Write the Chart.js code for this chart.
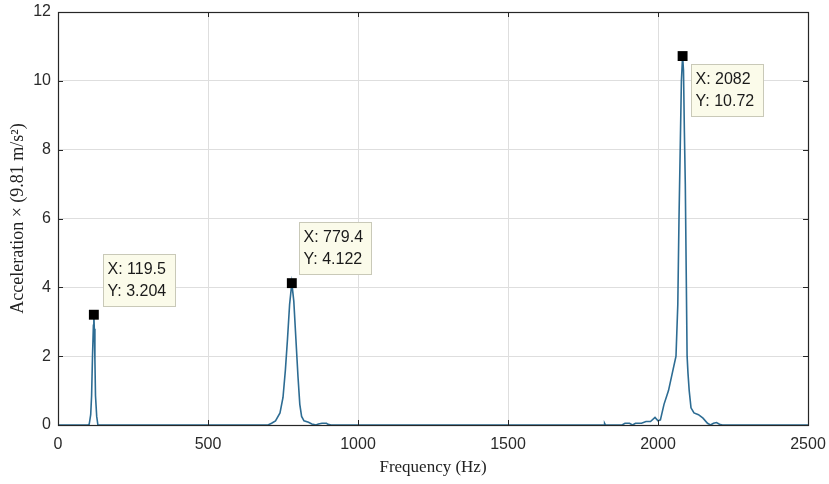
<!DOCTYPE html>
<html>
<head>
<meta charset="utf-8">
<script src="https://cdn.jsdelivr.net/npm/chart.js@4.4.1/dist/chart.umd.min.js"></script>
<style>
  html, body { margin: 0; padding: 0; background: #ffffff; }
  #wrap { width: 829px; height: 484px; position: relative; }
</style>
</head>
<body>
<div id="wrap"><canvas id="c" width="829" height="484"></canvas></div>
<script>
// ---- data ----
const freqHz = [
  0, 100, 104, 109, 112, 115, 118, 119.5, 121, 123, 125, 129, 133,
  700, 712, 725, 740, 750, 758, 765, 772, 779.4, 786, 793, 800, 806, 812, 820, 835, 846, 860, 868, 880, 895, 900, 910,
  1820, 1822, 1825, 1880, 1890, 1905, 1915, 1925, 1945, 1960, 1975, 1990, 2000, 2008, 2020, 2035, 2050, 2060, 2066,
  2070, 2074, 2078, 2082, 2085, 2088, 2091, 2094, 2097, 2100, 2104, 2110, 2120, 2135, 2150, 2165, 2175, 2185, 2195, 2205, 2215,
  2500
];
const accel = [
  0, 0, 0.02, 0.3, 0.85, 2.0, 2.9, 3.204, 2.8, 1.9, 0.85, 0.25, 0,
  0, 0.05, 0.12, 0.35, 0.8, 1.6, 2.5, 3.5, 4.122, 3.6, 2.5, 1.4, 0.6, 0.25, 0.12, 0.08, 0.03, 0, 0.03, 0.05, 0.05, 0.02, 0,
  0, 0.05, 0, 0, 0.05, 0.05, 0, 0.05, 0.05, 0.1, 0.1, 0.22, 0.12, 0.15, 0.6, 1.0, 1.6, 2.0, 3.5,
  6.0, 8.0, 10.0, 10.72, 10.3, 8.5, 7.0, 4.5, 2.0, 1.5, 1.0, 0.5, 0.35, 0.3, 0.2, 0.05, 0, 0.05, 0.07, 0.02, 0,
  0
];
const peakX = [119.5, 779.4, 2082];
const peakY = [3.204, 4.122, 10.72];
const peakXLabel = ['119.5', '779.4', '2082'];
const peakYLabel = ['3.204', '4.122', '10.72'];
const xTicks = [0, 500, 1000, 1500, 2000, 2500];
const yTicks = [0, 2, 4, 6, 8, 10, 12];

// offsets (px) of each data tip box relative to its marker
const tipOffset = [[9, -61], [7, -61], [8, 8]];

const lineData = freqHz.map((f, i) => ({ x: f, y: accel[i] }));
const peakData = peakX.map((f, i) => ({ x: f, y: peakY[i] }));

const framePlugin = {
  id: 'frame',
  afterDatasetsDraw(chart) {
    const { ctx, chartArea: a, scales } = chart;
    ctx.save();
    ctx.strokeStyle = '#262626';
    ctx.lineWidth = 1;
    const tl = 5;
    xTicks.forEach(v => {
      const px = Math.round(scales.x.getPixelForValue(v)) + 0.5;
      ctx.beginPath();
      ctx.moveTo(px, a.bottom); ctx.lineTo(px, a.bottom - tl);
      ctx.moveTo(px, a.top); ctx.lineTo(px, a.top + tl);
      ctx.stroke();
    });
    yTicks.forEach(v => {
      const py = Math.round(scales.y.getPixelForValue(v)) + 0.5;
      ctx.beginPath();
      ctx.moveTo(a.left, py); ctx.lineTo(a.left + tl, py);
      ctx.moveTo(a.right, py); ctx.lineTo(a.right - tl, py);
      ctx.stroke();
    });
    ctx.lineWidth = 1.2;
    ctx.strokeRect(Math.round(a.left) + 0.5, Math.round(a.top) + 0.5,
                   Math.round(a.right - a.left), Math.round(a.bottom - a.top));
    ctx.restore();
  },
  afterDraw(chart) {
    const { ctx, scales } = chart;
    ctx.save();
    peakX.forEach((f, i) => {
      const px = scales.x.getPixelForValue(f);
      const py = scales.y.getPixelForValue(peakY[i]);
      const bx = Math.round(px + tipOffset[i][0]) + 0.5;
      const by = Math.round(py + tipOffset[i][1]) + 0.5;
      const w = 72, h = 52;
      ctx.fillStyle = '#fbfbea';
      ctx.strokeStyle = '#c9c9b8';
      ctx.lineWidth = 1;
      ctx.fillRect(bx, by, w, h);
      ctx.strokeRect(bx, by, w, h);
      ctx.fillStyle = '#1a1a1a';
      ctx.font = '16px "Liberation Sans", Arial, sans-serif';
      ctx.textBaseline = 'middle';
      ctx.textAlign = 'left';
      ctx.fillText('X: ' + peakXLabel[i], bx + 4, by + 15);
      ctx.fillText('Y: ' + peakYLabel[i], bx + 4, by + 37);
    });
    ctx.restore();
  }
};

new Chart(document.getElementById('c'), {
  type: 'line',
  data: {
    datasets: [
      {
        data: peakData,
        showLine: false,
        pointStyle: 'rect',
        pointRadius: 7,
        pointBackgroundColor: '#000000',
        pointBorderColor: '#000000',
        pointBorderWidth: 0,
        order: 0
      },
      {
        data: lineData,
        borderColor: '#2d6c93',
        borderWidth: 1.6,
        pointRadius: 0,
        tension: 0,
        fill: false,
        order: 1
      }
    ]
  },
  options: {
    responsive: false,
    animation: false,
    events: [],
    layout: { padding: { top: 12, right: 21, left: 0, bottom: 0 } },
    plugins: { legend: { display: false }, tooltip: { enabled: false } },
    scales: {
      x: {
        type: 'linear',
        min: 0, max: 2500,
        afterBuildTicks: s => { s.ticks = xTicks.map(v => ({ value: v })); },
        afterFit: s => { s.height = 59; s.paddingLeft = 0; s.paddingRight = 0; },
        grid: { color: '#dedede', lineWidth: 1, drawTicks: false },
        border: { display: false },
        ticks: {
          padding: 10,
          color: '#2a2a2a',
          font: { family: '"Liberation Sans", Arial, sans-serif', size: 16 },
          maxRotation: 0,
          callback: v => String(v)
        },
        title: {
          display: true,
          text: 'Frequency (Hz)',
          color: '#222222',
          font: { family: '"Liberation Serif", "Times New Roman", serif', size: 17 },
          padding: { top: 4, bottom: 6 }
        }
      },
      y: {
        min: 0, max: 12,
        afterBuildTicks: s => { s.ticks = yTicks.map(v => ({ value: v })); },
        afterFit: s => { s.width = 58; s.paddingTop = 0; s.paddingBottom = 0; },
        grid: { color: '#dedede', lineWidth: 1, drawTicks: false },
        border: { display: false },
        ticks: {
          padding: 7,
          color: '#2a2a2a',
          font: { family: '"Liberation Sans", Arial, sans-serif', size: 16 },
          callback: v => String(v)
        },
        title: {
          display: true,
          text: 'Acceleration × (9.81 m/s²)',
          color: '#222222',
          font: { family: '"Liberation Serif", "Times New Roman", serif', size: 18 },
          padding: { top: 7, bottom: 4 }
        }
      }
    }
  },
  plugins: [framePlugin]
});
</script>
</body>
</html>
